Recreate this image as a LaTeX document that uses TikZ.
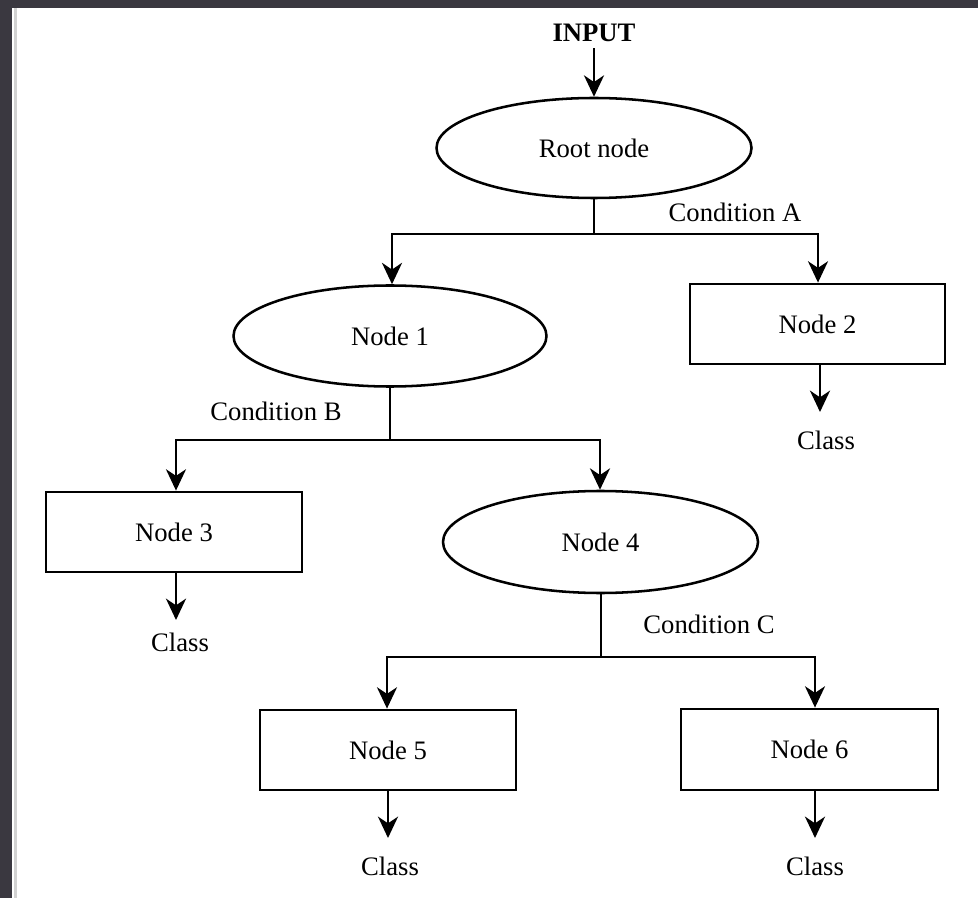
\documentclass[tikz,border=0pt]{standalone}
\usepackage{fontspec}
\setmainfont{Liberation Serif}
\usetikzlibrary{arrows.meta,shapes.geometric}
\definecolor{framedark}{HTML}{3A3840}
\definecolor{frameline}{HTML}{D2D2D2}
\tikzset{
  ell/.style={draw, line width=1.9pt, ellipse, inner sep=0pt},
  boxnode/.style={draw, line width=2.1pt, rectangle, inner sep=0pt},
  txt/.style={font=\fontsize{20}{24}\selectfont, inner sep=0pt},
  conn/.style={line width=2.1pt},
  arr/.style={line width=2.1pt, -{Stealth[length=16pt,width=15pt,inset=5pt]}},
}
\begin{document}
\begin{tikzpicture}[x=0.75pt,y=-0.75pt]
\useasboundingbox (0,0) rectangle (978,898);
\fill[white] (0,0) rectangle (978,898);
\fill[framedark] (0,0) rectangle (978,8);
\fill[framedark] (0,0) rectangle (12,898);
\fill[frameline] (14,8) rectangle (17,898);

% nodes
\node[txt, font=\fontsize{20}{24}\selectfont\bfseries] (input) at (594,33) {INPUT};
\node[ell, minimum width=315pt*0.75, minimum height=100pt*0.75, txt] (root) at (594,148) {Root node};
\node[ell, minimum width=313pt*0.75, minimum height=101pt*0.75, txt] (n1) at (390,336) {Node 1};
\node[boxnode, minimum width=255pt*0.75, minimum height=80pt*0.75, txt] (n2) at (817.5,324) {Node 2};
\node[boxnode, minimum width=256pt*0.75, minimum height=80pt*0.75, txt] (n3) at (174,532) {Node 3};
\node[ell, minimum width=315pt*0.75, minimum height=102pt*0.75, txt] (n4) at (600.5,542) {Node 4};
\node[boxnode, minimum width=256pt*0.75, minimum height=80pt*0.75, txt] (n5) at (388,750) {Node 5};
\node[boxnode, minimum width=257pt*0.75, minimum height=81pt*0.75, txt] (n6) at (809.5,749.5) {Node 6};

\node[txt] (c2) at (826,440) {Class};
\node[txt] (c3) at (180,642) {Class};
\node[txt] (c5) at (390,866) {Class};
\node[txt] (c6) at (815,866) {Class};

\node[txt] (condA) at (735,212) {Condition A};
\node[txt] (condB) at (276,411) {Condition B};
\node[txt] (condC) at (709,624) {Condition C};

% junction coordinates
\coordinate (jA) at (594,234);
\coordinate (jB) at (390,440);
\coordinate (jC) at (601,657);
\coordinate (e2) at (820,412);
\coordinate (e3) at (176,620);
\coordinate (e5) at (388,838);
\coordinate (e6) at (815,838);

% connectors
\draw[arr] (input.south) ++(0,6) -- (root.north);
\draw[conn] (root.south) -- (jA);
\draw[arr] (jA) -| (n1.north -| 392,0) ;
\draw[arr] (jA) -| (n2.north -| 818,0);

\draw[conn] (n1.south) -- (jB);
\draw[arr] (jB) -| (n3.north -| 176,0);
\draw[arr] (jB) -| (n4.north -| 600,0);

\draw[conn] (n4.south -| jC) -- (jC);
\draw[arr] (jC) -| (n5.north -| 387,0);
\draw[arr] (jC) -| (n6.north -| 815,0);

\draw[arr] (n2.south -| e2) -- (e2);
\draw[arr] (n3.south -| e3) -- (e3);
\draw[arr] (n5.south -| e5) -- (e5);
\draw[arr] (n6.south -| e6) -- (e6);
\end{tikzpicture}
\end{document}
